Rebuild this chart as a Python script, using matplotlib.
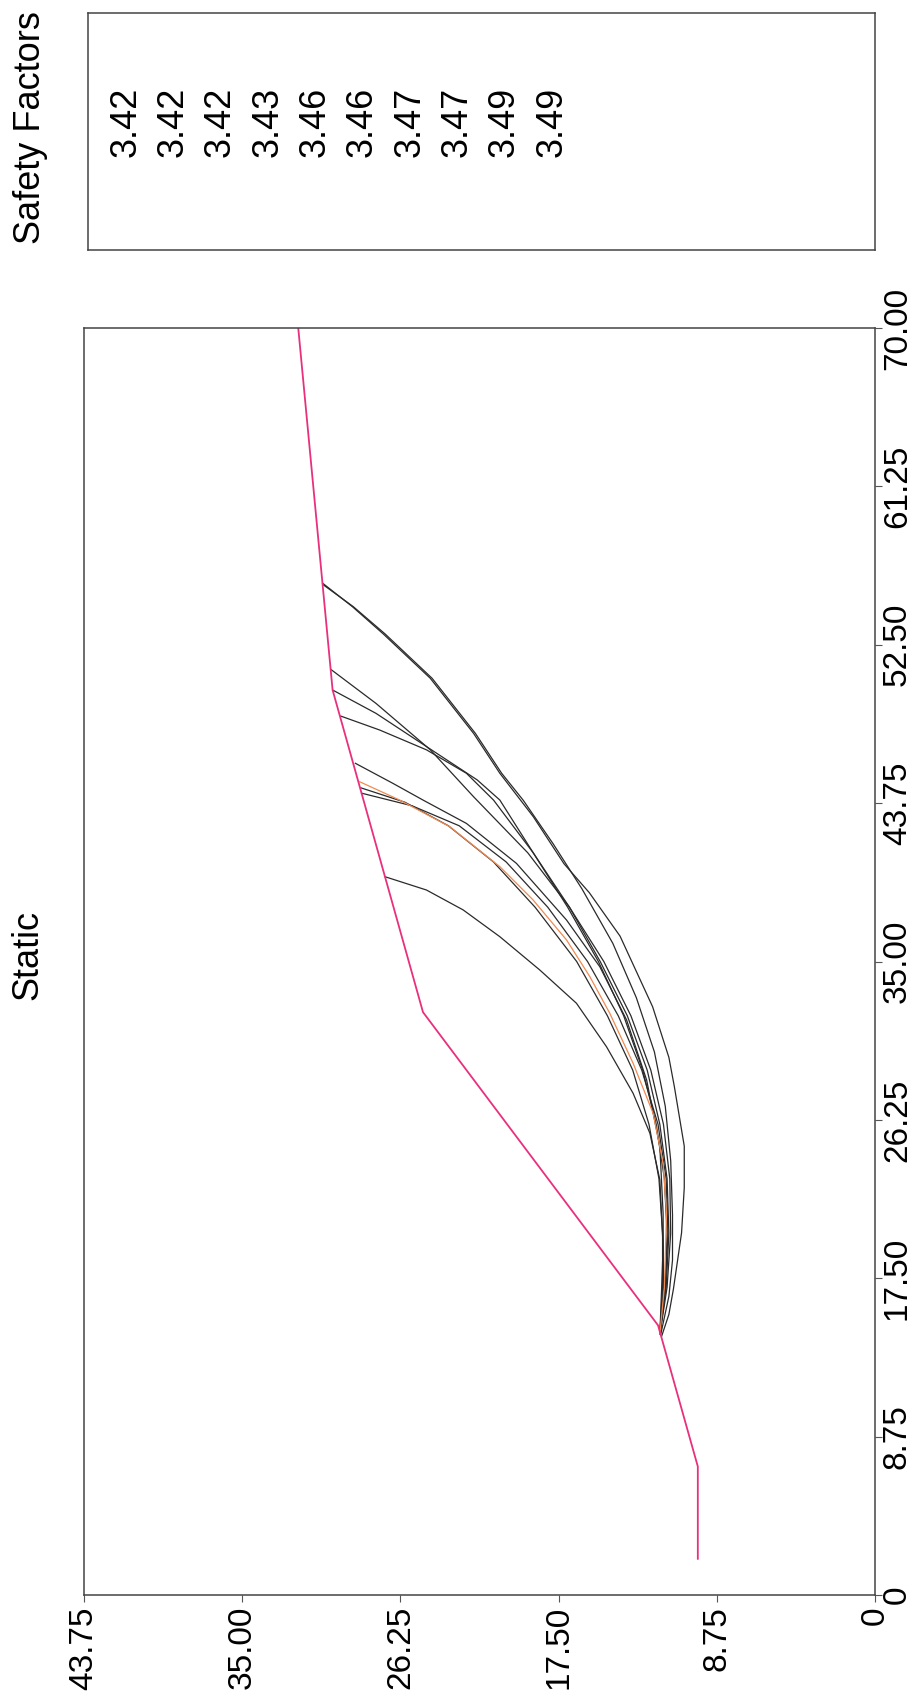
import matplotlib
matplotlib.use('Agg')
import matplotlib.pyplot as plt

plt.rcParams['font.family'] = ['Liberation Sans', 'DejaVu Sans']

# ground surface (distance, elevation)
ground_d = [2.0, 7.1, 14.9, 32.2, 50.0, 70.0]
ground_e = [9.8, 9.8, 12.0, 25.0, 30.0, 31.9]

# slip surfaces, toe -> crest
slip_d = [
    [14.3, 15.5, 16.9, 20.0, 22.5, 24.8, 28.1, 29.7, 32.5, 36.4, 38.8, 40.4, 43.0, 45.4, 47.6, 50.65, 53.1, 54.6, 55.9],
    [14.4, 16.5, 18.5, 21.0, 24.0, 27.0, 30.0, 33.0, 36.0, 39.0, 41.5, 43.9, 45.4, 47.6, 50.65, 53.1, 54.6, 55.8],
    [14.4, 17.0, 20.0, 23.0, 26.0, 29.0, 32.0, 35.0, 38.0, 41.0, 44.1, 46.7, 49.26, 51.14],
    [14.4, 17.0, 20.0, 23.0, 26.0, 29.0, 32.0, 35.0, 38.0, 41.0, 43.92, 45.03, 46.87, 48.71, 50.0],
    [14.4, 17.0, 20.0, 23.0, 26.0, 29.0, 32.0, 35.0, 38.0, 41.0, 43.92, 45.4, 46.69, 47.79, 48.56],
    [14.4, 17.0, 21.09, 24.77, 28.45, 31.77, 34.71, 37.29, 40.42, 42.63, 43.92, 44.84, 45.95],
    [14.4, 17.0, 20.0, 23.0, 26.0, 29.0, 32.0, 35.0, 38.0, 40.5, 42.5, 43.8, 44.6],
    [14.4, 17.0, 20.0, 23.0, 26.0, 29.0, 32.0, 35.0, 38.0, 40.5, 42.5, 43.6, 44.3],
    [14.4, 17.0, 19.24, 22.93, 25.51, 27.72, 30.29, 32.69, 34.53, 36.37, 37.85, 38.95, 39.69],
]
slip_e = [
    [11.8, 11.4, 11.15, 10.7, 10.55, 10.55, 11.1, 11.4, 12.3, 14.1, 15.8, 17.2, 18.9, 20.75, 22.2, 24.6, 27.2, 28.9, 30.55],
    [11.85, 11.4, 11.2, 11.2, 11.3, 11.6, 12.2, 13.2, 14.5, 16.2, 17.8, 19.45, 20.65, 22.1, 24.5, 27.1, 28.85, 30.5],
    [11.9, 11.5, 11.3, 11.35, 11.7, 12.4, 13.5, 15.0, 16.9, 19.2, 22.2, 24.6, 27.6, 30.1],
    [11.9, 11.55, 11.4, 11.5, 11.9, 12.6, 13.7, 15.2, 16.9, 18.9, 20.75, 22.0, 24.8, 27.6, 30.0],
    [11.9, 11.6, 11.5, 11.65, 12.1, 12.85, 13.9, 15.3, 17.0, 18.9, 21.1, 22.6, 24.8, 27.4, 29.55],
    [11.9, 11.7, 11.72, 11.9, 12.63, 13.74, 15.22, 17.06, 19.83, 22.6, 25.0, 26.66, 28.74],
    [11.9, 11.75, 11.75, 11.95, 12.5, 13.4, 14.8, 16.5, 18.8, 21.1, 23.6, 26.0, 28.45],
    [11.9, 11.6, 11.45, 11.55, 12.0, 12.9, 14.2, 15.9, 18.1, 20.4, 23.0, 25.6, 28.4],
    [11.9, 11.8, 11.72, 11.9, 12.45, 13.38, 14.85, 16.51, 18.54, 20.75, 22.78, 24.81, 27.12],
]

# critical surface (drawn in orange)
crit_d = [14.4, 17.0, 21.09, 23.85, 26.61, 29.38, 32.14, 34.16, 36.19, 38.4, 40.24, 42.45, 43.92, 44.93]
crit_e = [11.9, 11.65, 11.53, 11.72, 12.27, 13.38, 14.67, 15.77, 17.06, 18.91, 20.75, 23.52, 26.29, 28.5]

safety_factors = ['3.42', '3.42', '3.42', '3.43', '3.46', '3.46', '3.47', '3.47', '3.49', '3.49']

elev_ticks = [0, 8.75, 17.5, 26.25, 35.0, 43.75]
elev_labels = ['0', '8.75', '17.50', '26.25', '35.00', '43.75']
dist_ticks = [0, 8.75, 17.5, 26.25, 35.0, 43.75, 52.5, 61.25, 70.0]
dist_labels = ['0', '8.75', '17.50', '26.25', '35.00', '43.75', '52.50', '61.25', '70.00']

W, H = 917, 1701
fig = plt.figure(figsize=(W / 100, H / 100), dpi=100)

# the whole page is turned 90 degrees: elevation runs right->left, distance bottom->top
ax = fig.add_axes([84 / W, 1 - 1595 / H, 791 / W, 1267 / H])
ax.set_xlim(43.75, 0)
ax.set_ylim(0, 70)

for d, e in zip(slip_d, slip_e):
    ax.plot(e, d, color='#2a2a2a', lw=0.9)
ax.plot(crit_e, crit_d, color='#f08a50', lw=0.9)
ax.plot(ground_e, ground_d, color='#e8307c', lw=1.3)

ax.set_xticks(elev_ticks)
ax.set_xticklabels(elev_labels, rotation=90, fontsize=24)
ax.yaxis.tick_right()
ax.set_yticks(dist_ticks)
ax.set_yticklabels(dist_labels, rotation=90, fontsize=24)
for lbl in ax.get_yticklabels():
    lbl.set_va('center')
ax.tick_params(axis='x', direction='out', length=5, width=0.8, color='#555555', pad=3)
ax.tick_params(axis='y', direction='out', length=5, width=0.8, color='#555555', pad=0)
for sp in ax.spines.values():
    sp.set_color('#444444')
    sp.set_linewidth(1.1)

fig.text(28 / W, 1 - 955 / H, 'Static', rotation=90, ha='center', va='center', fontsize=26)

# safety factor box
box = fig.add_axes([88 / W, 1 - 250 / H, 787 / W, 237 / H])
box.set_xticks([])
box.set_yticks([])
for sp in box.spines.values():
    sp.set_color('#444444')
    sp.set_linewidth(1.1)
fig.text(30 / W, 1 - 128 / H, 'Safety Factors', rotation=90, ha='center', va='center', fontsize=26)
for i, sf in enumerate(safety_factors):
    fig.text((126 + i * 47.3) / W, 1 - 157 / H, sf, rotation=90, ha='center', va='bottom', fontsize=26)

fig.savefig('out.png', dpi=100, facecolor='white')
